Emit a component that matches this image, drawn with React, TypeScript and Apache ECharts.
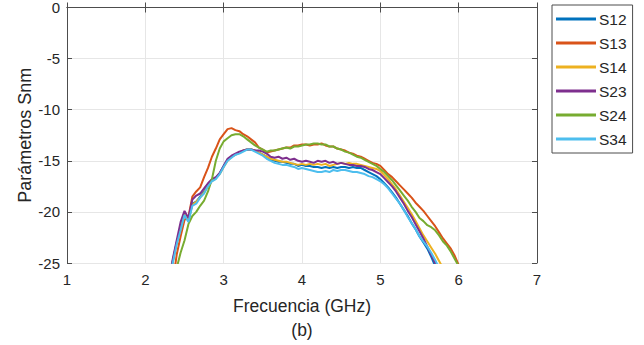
import React, { useEffect, useRef } from "react";
import * as echarts from "echarts";

const freq = [2.30, 2.35, 2.40, 2.45, 2.50, 2.55, 2.60, 2.65, 2.70, 2.75, 2.80, 2.85, 2.90, 2.95, 3.00, 3.05, 3.10, 3.15, 3.20, 3.25, 3.30, 3.35, 3.40, 3.45, 3.50, 3.55, 3.60, 3.65, 3.70, 3.75, 3.80, 3.85, 3.90, 3.95, 4.00, 4.05, 4.10, 4.15, 4.20, 4.25, 4.30, 4.35, 4.40, 4.45, 4.50, 4.55, 4.60, 4.65, 4.70, 4.75, 4.80, 4.85, 4.90, 4.95, 5.00, 5.05, 5.10, 5.15, 5.20, 5.25, 5.30, 5.35, 5.40, 5.45, 5.50, 5.55, 5.60, 5.65, 5.70, 5.75, 5.80, 5.85, 5.90, 5.95, 6.00];

const s12 = [-27, -24.8, -23.0, -21.6, -20.2, -20.9, -19.2, -19.0, -18.5, -18.0, -17.4, -16.9, -16.7, -16.2, -15.5, -14.9, -14.6, -14.4, -14.2, -14.0, -13.9, -13.9, -14.0, -14.2, -14.4, -14.6, -14.9, -15.0, -15.1, -15.1, -15.2, -15.3, -15.3, -15.5, -15.4, -15.5, -15.5, -15.6, -15.6, -15.7, -15.6, -15.7, -15.6, -15.7, -15.6, -15.6, -15.7, -15.6, -15.7, -15.7, -15.9, -16.1, -16.3, -16.5, -16.8, -17.2, -17.6, -18.1, -18.6, -19.2, -19.8, -20.4, -21.1, -21.7, -22.4, -23.0, -23.6, -24.4, -25.3, null, null, null, null, null, null];
const s13 = [null, -27, -24.2, -22.4, -20.8, -20.5, -18.5, -18.0, -17.6, -16.6, -15.7, -14.6, -13.8, -12.9, -12.4, -11.9, -11.8, -12.0, -12.1, -12.4, -12.6, -12.9, -13.2, -13.7, -13.9, -14.2, -14.1, -14.0, -13.9, -13.8, -13.7, -13.7, -13.5, -13.5, -13.4, -13.4, -13.5, -13.4, -13.4, -13.3, -13.5, -13.6, -13.6, -13.8, -13.9, -14.0, -14.2, -14.3, -14.5, -14.6, -14.8, -15.0, -15.2, -15.3, -15.5, -15.9, -16.3, -16.6, -17.0, -17.4, -17.8, -18.2, -18.6, -19.1, -19.5, -19.9, -20.4, -20.9, -21.4, -22.0, -22.6, -23.1, -23.6, -24.3, -25.2];
const s14 = [-27, -24.9, -23.1, -21.7, -20.2, -20.8, -19.3, -19.0, -18.6, -18.1, -17.5, -17.0, -16.7, -16.3, -15.6, -15.0, -14.6, -14.4, -14.2, -14.0, -13.9, -13.9, -14.0, -14.2, -14.4, -14.6, -14.8, -14.9, -15.0, -15.1, -15.1, -15.2, -15.3, -15.4, -15.3, -15.4, -15.3, -15.4, -15.3, -15.4, -15.3, -15.5, -15.4, -15.3, -15.2, -15.3, -15.2, -15.3, -15.3, -15.4, -15.5, -15.6, -15.7, -15.8, -16.0, -16.4, -16.8, -17.3, -17.8, -18.4, -19.0, -19.6, -20.2, -20.9, -21.6, -22.3, -22.9, -23.5, -24.1, -24.8, -25.5, null, null, null, null];
const s23 = [-27, -24.6, -22.8, -21.0, -19.9, -20.6, -18.8, -18.4, -18.2, -17.7, -17.2, -16.8, -16.6, -16.2, -15.5, -14.8, -14.5, -14.3, -14.1, -14.0, -13.9, -13.9, -14.0, -14.0, -14.1, -14.3, -14.6, -14.7, -14.6, -14.8, -14.7, -14.9, -14.8, -15.0, -15.1, -15.0, -15.1, -15.2, -15.0, -15.1, -15.0, -15.2, -15.1, -15.3, -15.2, -15.3, -15.4, -15.4, -15.5, -15.5, -15.6, -15.8, -15.9, -16.1, -16.3, -16.7, -17.1, -17.5, -18.0, -18.6, -19.2, -19.9, -20.5, -21.2, -21.9, -22.6, -23.4, -24.2, -25.0, -25.8, null, null, null, null, null];
const s24 = [null, null, -25.5, -24.0, -22.8, -21.2, -20.4, -20.0, -19.4, -18.9, -18.0, -16.8, -15.0, -13.8, -13.1, -12.8, -12.5, -12.4, -12.4, -12.6, -12.9, -13.2, -13.5, -13.7, -13.9, -14.1, -14.0, -14.0, -13.9, -13.8, -13.7, -13.8, -13.6, -13.6, -13.5, -13.4, -13.4, -13.3, -13.3, -13.4, -13.4, -13.6, -13.6, -13.8, -13.9, -14.1, -14.2, -14.4, -14.6, -14.7, -14.9, -15.1, -15.3, -15.5, -15.8, -16.1, -16.5, -16.9, -17.4, -17.9, -18.4, -18.9, -19.5, -20.0, -20.6, -20.9, -21.3, -21.5, -21.8, -22.3, -22.9, -23.3, -23.9, -24.6, -25.3];
const s34 = [-27, -25.0, -23.2, -21.8, -20.3, -21.0, -19.4, -19.2, -18.6, -18.2, -17.5, -17.0, -16.8, -16.3, -15.6, -15.0, -14.7, -14.4, -14.3, -14.1, -13.9, -13.9, -14.1, -14.3, -14.5, -14.8, -15.0, -15.2, -15.3, -15.4, -15.4, -15.5, -15.6, -15.8, -15.7, -15.8, -15.9, -16.0, -16.1, -16.1, -16.0, -16.1, -15.9, -16.0, -15.9, -15.9, -16.0, -16.1, -16.1, -16.2, -16.3, -16.5, -16.6, -16.8, -17.0, -17.3, -17.7, -18.2, -18.7, -19.2, -19.8, -20.5, -21.1, -21.7, -22.4, -22.9, -23.4, -24.0, -24.7, -25.5, null, null, null, null, null];

const seriesNames = ["S12", "S13", "S14", "S23", "S24", "S34"];
const seriesValues = [s12, s13, s14, s23, s24, s34];
const seriesColors = ["#0072BD", "#D95319", "#EDB120", "#7E2F8E", "#77AC30", "#4DBEEE"];

const FONT = "Liberation Sans, Arial, sans-serif";
const TXT = "#262626";

export default function App() {
  const ref = useRef<HTMLDivElement>(null);
  useEffect(() => {
    const chart = echarts.init(ref.current!, null, { renderer: "svg" });
    const axisLine = { show: true, lineStyle: { color: "#4d4d4d", width: 1 } };
    const tick = { show: true, inside: true, length: 5, lineStyle: { color: "#4d4d4d" } };
    chart.setOption({
      animation: false,
      backgroundColor: "#ffffff",
      grid: { left: 67, top: 5, width: 470, height: 258, show: false },
      legend: {
        orient: "vertical",
        left: 552,
        top: 5,
        padding: [6, 6, 6, 4],
        icon: "path://M0,0H40V3H0Z",
        itemWidth: 40,
        itemHeight: 14,
        itemGap: 8,
        borderColor: "#4d4d4d",
        borderWidth: 1,
        backgroundColor: "#ffffff",
        textStyle: { fontFamily: FONT, fontSize: 15.5, color: TXT, padding: [0, 0, 0, -2] },
        data: seriesNames,
      },
      graphic: [
        {
          type: "text",
          x: 302,
          y: 330,
          style: {
            text: "(b)",
            fontFamily: FONT,
            fontSize: 17.5,
            fill: TXT,
            align: "center",
            verticalAlign: "middle",
          },
        },
      ],
      xAxis: [
        {
          type: "value",
          min: 1,
          max: 7,
          interval: 1,
          name: "Frecuencia (GHz)",
          nameLocation: "middle",
          nameGap: 34,
          nameMoveOverlap: false,
          nameTextStyle: { fontFamily: FONT, fontSize: 17.5, color: TXT },
          axisLine,
          axisTick: tick,
          axisLabel: { fontFamily: FONT, fontSize: 15, color: TXT, margin: 9 },
          splitLine: { show: true, lineStyle: { color: "#e6e6e6", width: 1 } },
        },
        {
          type: "value",
          position: "top",
          min: 1,
          max: 7,
          interval: 1,
          axisLine,
          axisTick: tick,
          axisLabel: { show: false },
          splitLine: { show: false },
        },
      ],
      yAxis: [
        {
          type: "value",
          min: -25,
          max: 0,
          interval: 5,
          name: "Parámetros Snm",
          nameLocation: "middle",
          nameGap: 33,
          nameMoveOverlap: false,
          nameTextStyle: { fontFamily: FONT, fontSize: 18, color: TXT },
          axisLine,
          axisTick: tick,
          axisLabel: { fontFamily: FONT, fontSize: 15, color: TXT, margin: 7 },
          splitLine: { show: true, lineStyle: { color: "#e6e6e6", width: 1 } },
        },
        {
          type: "value",
          position: "right",
          min: -25,
          max: 0,
          interval: 5,
          axisLine,
          axisTick: tick,
          axisLabel: { show: false },
          splitLine: { show: false },
        },
      ],
      series: seriesNames.map((name, i) => ({
        name,
        type: "line",
        xAxisIndex: 0,
        yAxisIndex: 0,
        showSymbol: false,
        symbol: "none",
        clip: true,
        connectNulls: false,
        lineStyle: { color: seriesColors[i], width: 2 },
        itemStyle: { color: seriesColors[i] },
        data: freq.map((f, j) => [f, seriesValues[i][j]]),
      })),
    });
    return () => chart.dispose();
  }, []);
  return (
    <div
      ref={ref}
      style={{ position: "fixed", left: 0, top: 0, width: 644, height: 345, background: "#fff" }}
    />
  );
}
